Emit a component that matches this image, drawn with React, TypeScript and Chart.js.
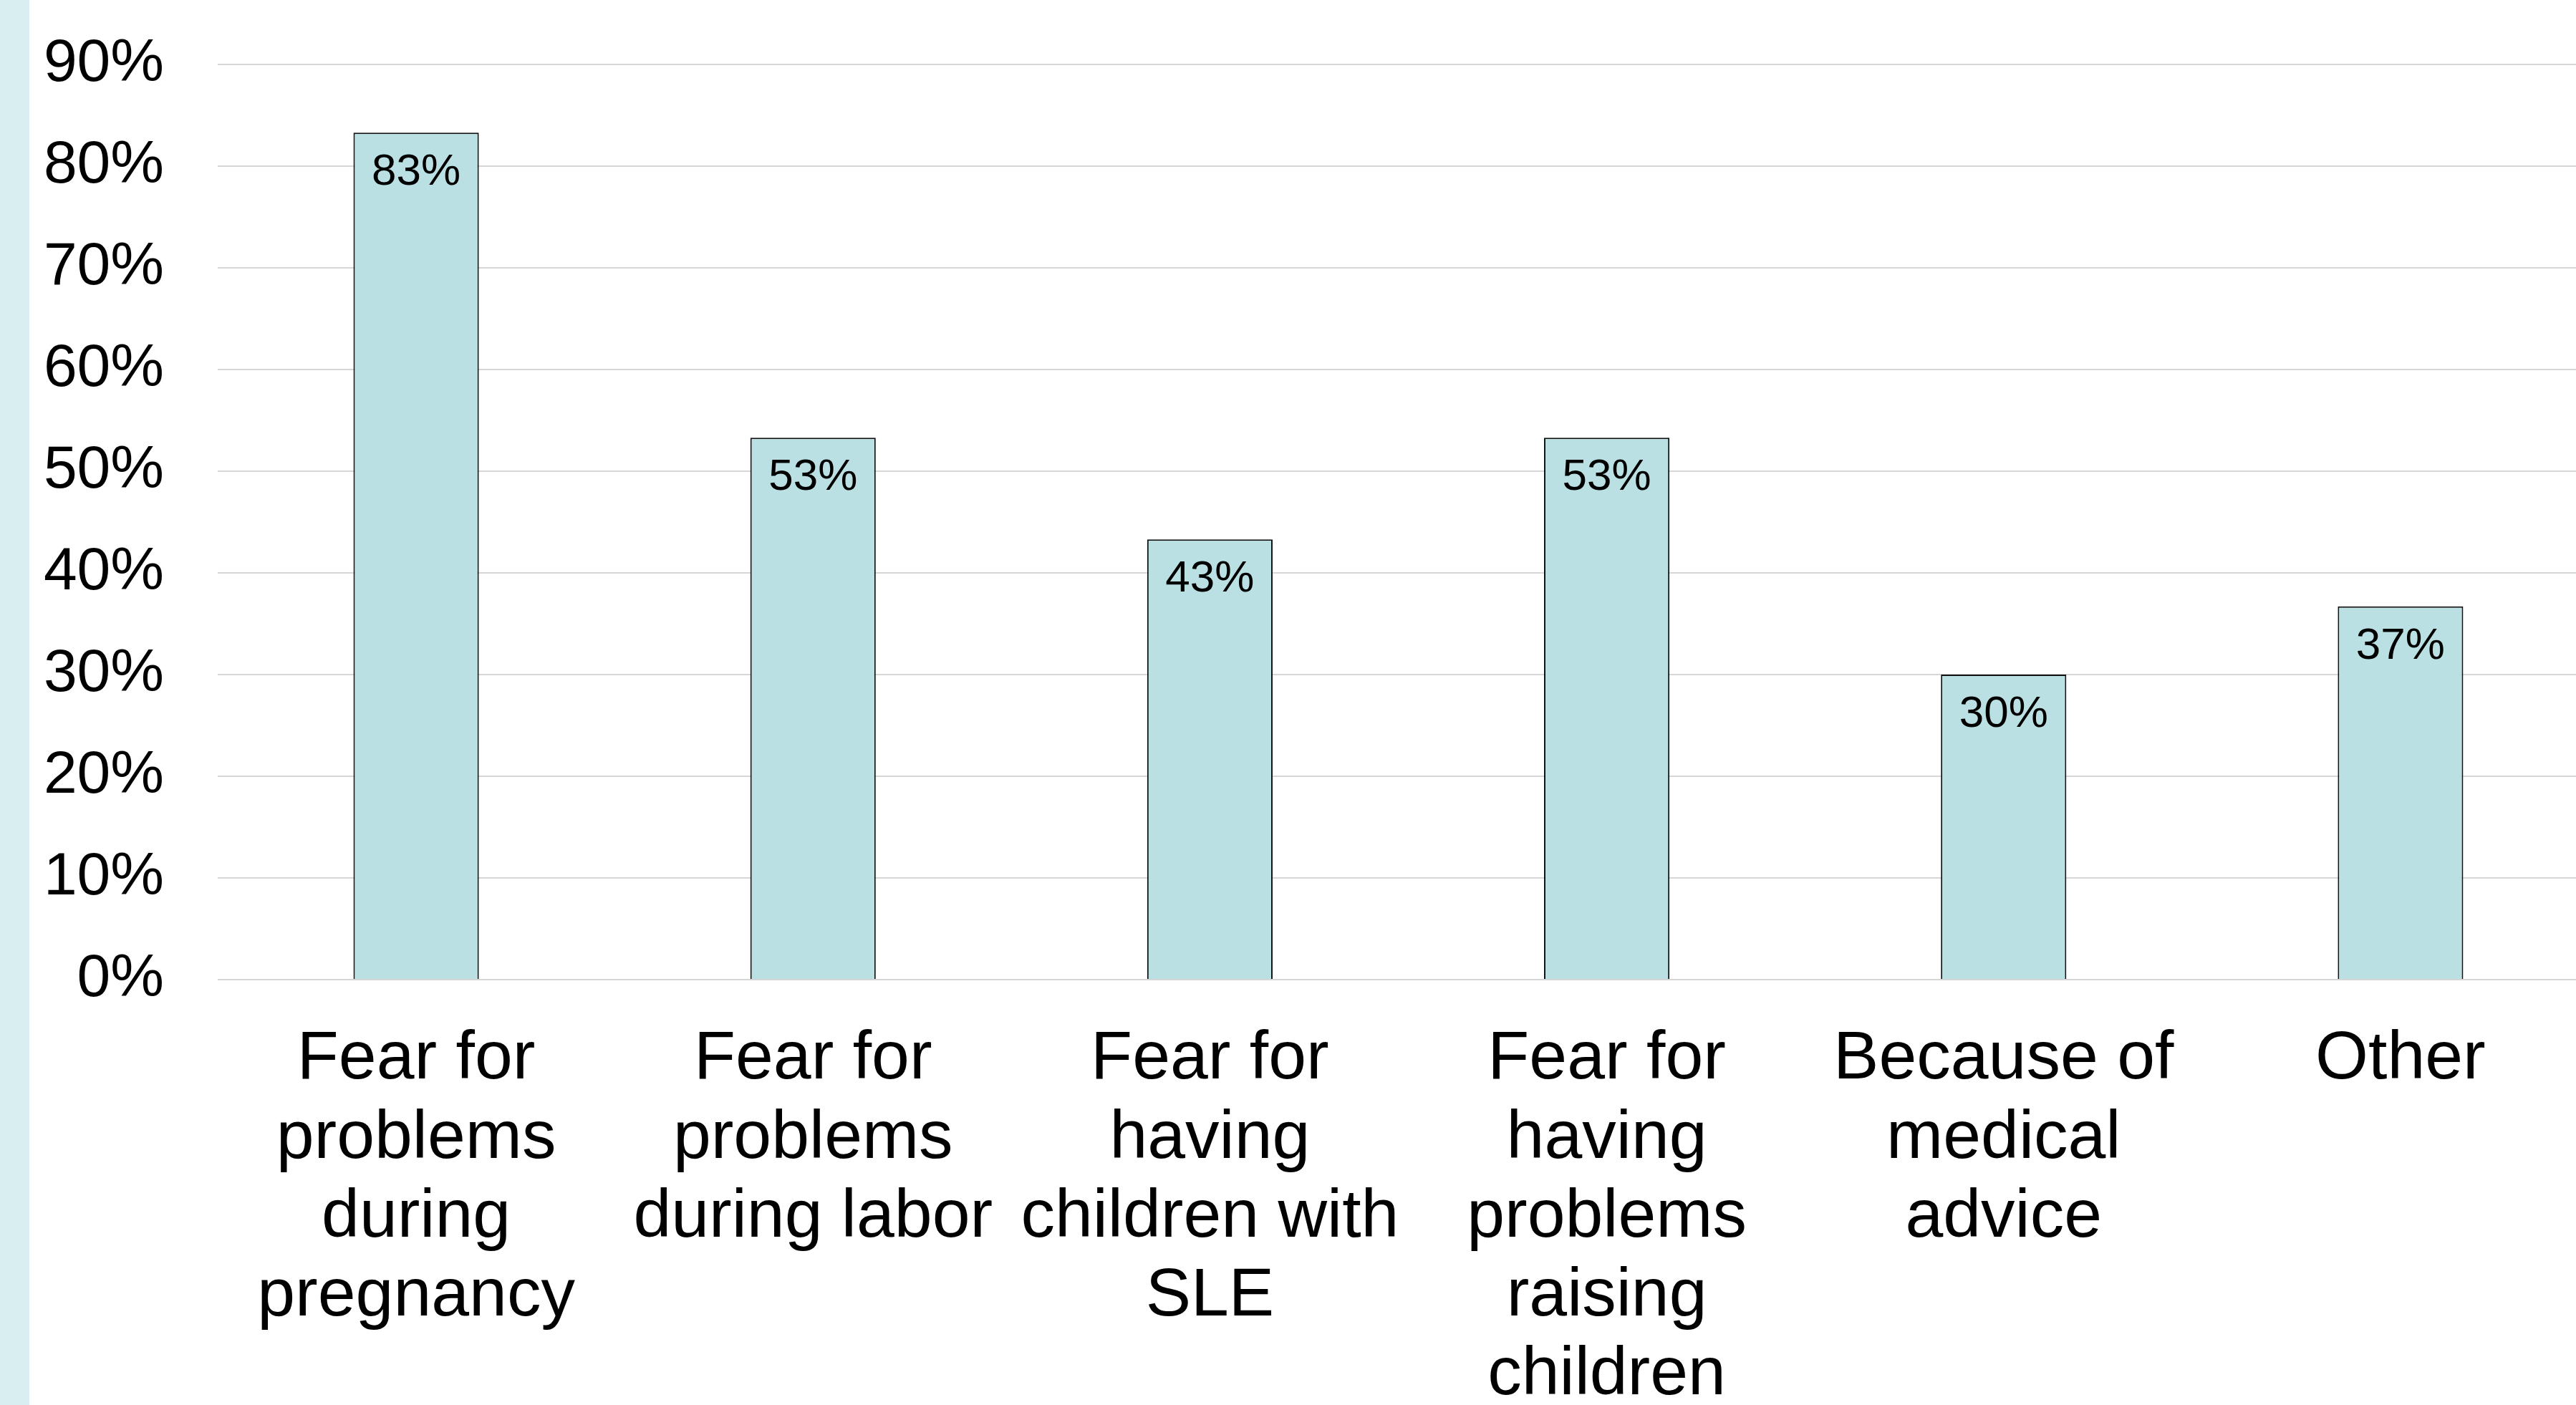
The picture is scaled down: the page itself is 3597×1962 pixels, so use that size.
import React, { useEffect, useRef } from "react";
import { Chart, registerables } from "chart.js";

Chart.register(...registerables);

const categories: string[][] = [
  ["Fear for", "problems", "during", "pregnancy"],
  ["Fear for", "problems", "during labor"],
  ["Fear for", "having", "children with", "SLE"],
  ["Fear for", "having", "problems", "raising", "children"],
  ["Because of", "medical", "advice"],
  ["Other"],
];

const values: number[] = [83.3, 53.3, 43.3, 53.3, 30.0, 36.7];

const yTicks: number[] = [0, 10, 20, 30, 40, 50, 60, 70, 80, 90];

const FONT = "'Liberation Sans', Arial, Helvetica, sans-serif";

const dataLabelPlugin = {
  id: "dataLabels",
  afterDatasetsDraw(chart: any) {
    const ctx = chart.ctx;
    const meta = chart.getDatasetMeta(0);
    ctx.save();
    ctx.font = `62px ${FONT}`;
    ctx.fillStyle = "#000000";
    ctx.textAlign = "center";
    ctx.textBaseline = "middle";
    meta.data.forEach((el: any, i: number) => {
      const v = chart.data.datasets[0].data[i] as number;
      ctx.fillText(`${Math.round(v)}%`, el.x, el.y + 56);
    });
    ctx.restore();
  },
};

export default function App() {
  const canvasRef = useRef<HTMLCanvasElement | null>(null);

  useEffect(() => {
    if (!canvasRef.current) return;
    const chart = new Chart(canvasRef.current, {
      type: "bar",
      data: {
        labels: categories,
        datasets: [
          {
            data: values,
            backgroundColor: "#bbe0e3",
            borderColor: "#111111",
            borderWidth: 2,
            categoryPercentage: 1,
            barPercentage: 0.316,
          },
        ],
      },
      options: {
        responsive: false,
        animation: false,
        devicePixelRatio: 1,
        layout: { padding: { top: 90, left: 0, right: 0, bottom: 0 } },
        plugins: {
          legend: { display: false },
          tooltip: { enabled: false },
        },
        scales: {
          x: {
            grid: { display: false, drawTicks: false },
            border: { display: false },
            ticks: {
              color: "#000000",
              font: { family: FONT, size: 95, lineHeight: 1.16 },
              padding: 57,
              maxRotation: 0,
              minRotation: 0,
              autoSkip: false,
            },
            afterFit: (scale: any) => {
              scale.height = 594;
              scale.paddingLeft = 0;
              scale.paddingRight = 0;
            },
          },
          y: {
            min: 0,
            max: 90,
            afterBuildTicks: (scale: any) => {
              scale.ticks = yTicks.map((v) => ({ value: v }));
            },
            grid: { color: "#d6d6d6", lineWidth: 2, drawTicks: false },
            border: { display: false },
            ticks: {
              color: "#000000",
              font: { family: FONT, size: 84 },
              padding: 75,
              callback: (v: any) => `${v}%`,
            },
            afterFit: (scale: any) => {
              scale.width = 304;
              scale.paddingTop = 0;
              scale.paddingBottom = 0;
            },
          },
        },
      },
      plugins: [dataLabelPlugin],
    });
    return () => chart.destroy();
  }, []);

  return (
    <div
      style={{
        position: "fixed",
        left: 0,
        top: 0,
        width: 3597,
        height: 1962,
        overflow: "hidden",
        background: "#ffffff",
      }}
    >
      <canvas
        ref={canvasRef}
        width={3629}
        height={1962}
        style={{ position: "absolute", left: 0, top: 0, width: 3629, height: 1962 }}
      />
      <div
        style={{
          position: "absolute",
          left: 0,
          top: 0,
          width: 41,
          height: 1962,
          background: "#d9eef1",
        }}
      />
    </div>
  );
}
